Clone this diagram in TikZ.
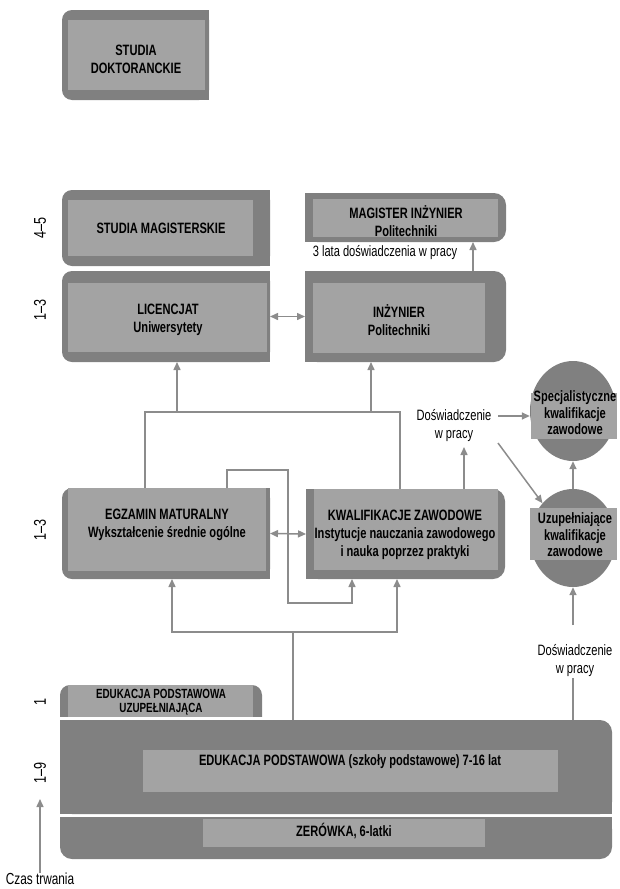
\documentclass[tikz,border=0pt]{standalone}
\usepackage{fontspec}
\setmainfont{Liberation Sans}[FakeStretch=0.74]
\usetikzlibrary{arrows.meta,shapes.geometric}
\definecolor{dk}{HTML}{808080}
\definecolor{lt}{HTML}{A3A3A3}
\definecolor{lnc}{HTML}{8C8C8C}
\begin{document}
\begin{tikzpicture}[x=1pt,y=-1pt,
  lbl/.style={font=\fontsize{15}{18}\selectfont, align=center, inner sep=0pt, text=black},
  blbl/.style={lbl, font=\fontsize{15}{18}\selectfont\bfseries},
  dlbl/.style={lbl, font=\fontsize{17}{18}\selectfont, rotate=90},
  frame/.style={draw=none, inner sep=0pt, outer sep=0pt},
  ln/.style={draw=lnc, line width=1.5pt},
  arr/.style={ln, -{Triangle[length=8pt,width=7pt]}},
  darr/.style={ln, {Triangle[length=8pt,width=7pt]}-{Triangle[length=8pt,width=7pt]}}]
\useasboundingbox (0,0) rectangle (619,889);

% ---------- STUDIA DOKTORANCKIE
\fill[dk, rounded corners=10pt] (62,10) rectangle (209,100);
\fill[dk] (150,10) rectangle (209,100);
\fill[lt] (68,20) rectangle (205,90);
\node[frame, minimum width=147pt, minimum height=90pt] (dok) at (135.5,55) {};
\node[blbl] (dokt) at (136,59) {STUDIA\\DOKTORANCKIE};

% ---------- STUDIA MAGISTERSKIE
\fill[dk, rounded corners=10pt] (62,190) rectangle (270,266);
\fill[dk] (200,190) rectangle (270,266);
\fill[lt] (68,200) rectangle (253,256);
\node[frame, minimum width=208pt, minimum height=76pt] (mag) at (166,228) {};
\node[blbl] (magt) at (161,228) {STUDIA MAGISTERSKIE};

% ---------- LICENCJAT
\fill[dk, rounded corners=10pt] (62,271) rectangle (270,362);
\fill[dk] (200,271) rectangle (270,362);
\fill[lt] (68,283) rectangle (267,352);
\node[frame, minimum width=208pt, minimum height=91pt] (lic) at (166,316.5) {};
\node[blbl] (lict) at (168,320) {LICENCJAT\\Uniwersytety};

% ---------- MAGISTER INZYNIER
\fill[dk, rounded corners=12pt] (305,193) rectangle (506,242);
\fill[dk] (305,193) rectangle (400,242);
\fill[lt] (313,199) rectangle (498,237);
\node[frame, minimum width=201pt, minimum height=49pt] (mgi) at (405.5,217.5) {};
\node[blbl] (mgit) at (406,221) {MAGISTER INŻYNIER\\Politechniki};
\node[lbl] (exp3) at (385,253) {3 lata doświadczenia w pracy};

% ---------- INZYNIER
\fill[dk, rounded corners=12pt] (305,271) rectangle (506,362);
\fill[dk] (305,271) rectangle (400,362);
\fill[lt] (313,283) rectangle (485,353);
\node[frame, minimum width=201pt, minimum height=91pt] (inz) at (405.5,316.5) {};
\node[blbl] (inzt) at (399,320) {INŻYNIER\\Politechniki};

% ---------- EGZAMIN MATURALNY
\fill[dk, rounded corners=10pt] (62,488) rectangle (270,579);
\fill[dk] (200,488) rectangle (270,579);
\fill[lt] (68,488) rectangle (266,571);
\node[frame, minimum width=208pt, minimum height=91pt] (egz) at (166,533.5) {};
\node[blbl] (egzt) at (167,525) {EGZAMIN MATURALNY\\Wykształcenie średnie ogólne};

% ---------- KWALIFIKACJE ZAWODOWE
\fill[dk, rounded corners=12pt] (306,489) rectangle (505,579);
\fill[dk] (306,489) rectangle (400,579);
\fill[lt] (314,489) rectangle (498,570);
\node[frame, minimum width=199pt, minimum height=90pt] (kw) at (405.5,534) {};
\node[blbl] (kwt) at (405,535) {KWALIFIKACJE ZAWODOWE\\Instytucje nauczania zawodowego\\i nauka poprzez praktyki};

% ---------- circles
\node[ellipse, fill=dk, minimum width=86pt, minimum height=100pt, inner sep=0pt] (spec) at (573,411) {};
\fill[lt] (531,393) rectangle (617,439);
\node[blbl, font=\fontsize{15}{16.5}\selectfont\bfseries] (spect) at (575,413) {Specjalistyczne\\kwalifikacje\\zawodowe};
\node[ellipse, fill=dk, minimum width=86pt, minimum height=98pt, inner sep=0pt] (uzu) at (573,538) {};
\fill[lt] (530,508) rectangle (617,560);
\node[blbl, font=\fontsize{15}{16.5}\selectfont\bfseries] (uzut) at (575,535) {Uzupełniające\\kwalifikacje\\zawodowe};

% ---------- EDUKACJA PODSTAWOWA UZUPELNIAJACA
\fill[dk, rounded corners=10pt] (60,685) rectangle (262,730);
\fill[lt] (68,685) rectangle (253,717);
\node[frame, minimum width=202pt, minimum height=32pt] (eup) at (161,701) {};
\node[blbl, font=\fontsize{13.3}{14}\selectfont\bfseries] (eupt) at (161,702) {EDUKACJA PODSTAWOWA\\UZUPEŁNIAJĄCA};
\fill[white] (55,717) rectangle (265,720);

% ---------- EDUKACJA PODSTAWOWA
\fill[dk, rounded corners=12pt] (60,720) rectangle (612,814);
\fill[dk] (60,720) rectangle (500,814);
\fill[dk] (500,760) rectangle (612,814);
\fill[lt] (143,750) rectangle (558,792);
\node[frame, minimum width=552pt, minimum height=94pt] (edu) at (336,767) {};
\node[blbl] (edut) at (350,762) {EDUKACJA PODSTAWOWA (szkoły podstawowe) 7-16 lat};

% ---------- ZEROWKA
\fill[dk, rounded corners=12pt] (60,817) rectangle (612,859);
\fill[dk] (60,817) rectangle (612,835);
\fill[lt] (203,819) rectangle (485,847);
\node[frame, minimum width=552pt, minimum height=42pt] (zer) at (336,838) {};
\node[blbl] (zert) at (344,831) {ZERÓWKA, 6-latki};

% ---------- duration labels
\node[dlbl] (d45) at (40,228) {4–5};
\node[dlbl] (d13a) at (40,310) {1–3};
\node[dlbl] (d13b) at (40,530) {1–3};
\node[dlbl] (d1) at (40,702) {1};
\node[dlbl] (d19) at (40,773) {1–9};
\node[lbl, font=\fontsize{16}{18}\selectfont, anchor=north] (czas) at (40,873) {Czas trwania};
\coordinate (czasend) at (40,799);
\draw[arr] (czas.north) -- (czasend);

% ---------- experience labels
\node[lbl] (dw1) at (454,426) {Doświadczenie\\w pracy};
\node[lbl] (dw2) at (575,661) {Doświadczenie\\w pracy};

% ---------- connectors
\draw[darr] (lic.east) -- (inz.west);
\draw[darr] (egz.east) -- (kw.west);

\coordinate (j1) at (145,412);
\coordinate (j2) at (400,412);
\draw[ln] (egz.north -| j1) -- (j1) -- (j2) -- (kw.north -| j2);
\coordinate (a1) at (177,412);
\coordinate (a2) at (371,412);
\draw[arr] (a1) -- (a1 |- lic.south);
\draw[arr] (a2) -- (a2 |- inz.south);

\coordinate (k1) at (227,470);
\coordinate (k2) at (288,470);
\coordinate (k3) at (288,603);
\coordinate (k4) at (352,603);
\draw[arr] (egz.north -| k1) -- (k1) -- (k2) -- (k3) -- (k4) -- (k4 |- kw.south);

\coordinate (m1) at (172,632);
\coordinate (m2) at (397,632);
\coordinate (m3) at (293,632);
\draw[darr] (egz.south -| m1) -- (m1) -- (m2) -- (kw.south -| m2);
\draw[ln] (m3) -- (m3 |- edu.north);

\coordinate (f1) at (473,300);
\draw[arr] (inz.north -| f1) -- (mgi.south -| f1);

\coordinate (g1) at (464,447);
\draw[arr] (kw.north -| g1) -- (g1);
\coordinate (h1) at (498,416);
\draw[arr] (h1) -- (h1 -| spec.west);
\coordinate (i1) at (498,443);
\draw[arr] (i1) -- (uzu.north west);
\draw[arr] (uzu.north) -- (spec.south);

\coordinate (n1) at (573,678);
\coordinate (n2) at (573,625);
\draw[ln] (edu.north -| n1) -- (n1);
\draw[arr] (n2) -- (n2 |- uzu.south);
\end{tikzpicture}
\end{document}
